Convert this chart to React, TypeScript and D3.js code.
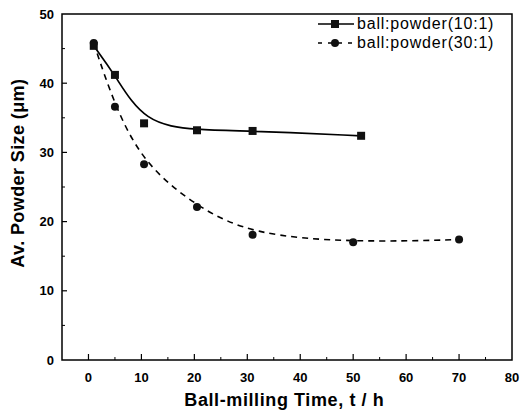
import React, { useEffect, useRef } from "react";
import * as d3 from "d3";

// ball:powder 10:1 (squares, solid)
const timeA = [1, 5, 10.5, 20.5, 31, 51.5];
const sizeA = [45.4, 41.2, 34.2, 33.2, 33.1, 32.4];
// ball:powder 30:1 (circles, dashed)
const timeB = [1, 5, 10.5, 20.5, 31, 50, 70];
const sizeB = [45.8, 36.6, 28.3, 22.1, 18.1, 17.0, 17.4];

const xTicks = [0, 10, 20, 30, 40, 50, 60, 70, 80];
const yTicks = [0, 10, 20, 30, 40, 50];
const legendLabels = ["ball:powder(10:1)", "ball:powder(30:1)"];

const FONT = "Liberation Sans, Arial, sans-serif";

const App = () => {
  const ref = useRef<SVGSVGElement>(null);

  useEffect(() => {
    const margin = { top: 14, right: 20, bottom: 55, left: 62 };
    const width = 532 - margin.left - margin.right;
    const height = 415 - margin.top - margin.bottom;

    const svg = d3.select(ref.current);
    svg.selectAll("*").remove();

    const g = svg.append("g").attr("transform", `translate(${margin.left},${margin.top})`);

    const x = d3.scaleLinear().domain([-5, 80]).range([0, width]);
    const y = d3.scaleLinear().domain([0, 50]).range([height, 0]);

    // frame
    g.append("rect")
      .attr("width", width)
      .attr("height", height)
      .attr("fill", "none")
      .attr("stroke", "#000")
      .attr("stroke-width", 1.5);

    // x ticks (inside)
    const xMinor = d3.range(0, 80, 5).filter((v) => v % 10 !== 0);
    g.selectAll(".xt")
      .data(xTicks.filter((v) => v < 80))
      .join("line")
      .attr("x1", (d) => x(d))
      .attr("x2", (d) => x(d))
      .attr("y1", height)
      .attr("y2", height - 6)
      .attr("stroke", "#000")
      .attr("stroke-width", 1.2);
    g.selectAll(".xm")
      .data(xMinor)
      .join("line")
      .attr("x1", (d) => x(d))
      .attr("x2", (d) => x(d))
      .attr("y1", height)
      .attr("y2", height - 3)
      .attr("stroke", "#000");

    g.selectAll(".xl")
      .data(xTicks)
      .join("text")
      .attr("x", (d) => x(d))
      .attr("y", height + 22)
      .attr("text-anchor", "middle")
      .attr("font-family", FONT)
      .attr("font-weight", "bold")
      .attr("font-size", 13)
      .text((d) => d);

    // y ticks (inside)
    g.selectAll(".yt")
      .data(yTicks.filter((v) => v > 0 && v < 50))
      .join("line")
      .attr("x1", 0)
      .attr("x2", 5)
      .attr("y1", (d) => y(d))
      .attr("y2", (d) => y(d))
      .attr("stroke", "#000")
      .attr("stroke-width", 1.2);
    g.selectAll(".ym")
      .data([5, 15, 25, 35, 45])
      .join("line")
      .attr("x1", 0)
      .attr("x2", 3)
      .attr("y1", (d) => y(d))
      .attr("y2", (d) => y(d))
      .attr("stroke", "#000");

    g.selectAll(".yl")
      .data(yTicks)
      .join("text")
      .attr("x", -8)
      .attr("y", (d) => y(d) + 4.5)
      .attr("text-anchor", "end")
      .attr("font-family", FONT)
      .attr("font-weight", "bold")
      .attr("font-size", 13)
      .text((d) => d);

    // axis titles
    g.append("text")
      .attr("x", x(37))
      .attr("y", height + 46)
      .attr("text-anchor", "middle")
      .attr("font-family", FONT)
      .attr("font-weight", "bold")
      .attr("font-size", 18)
      .attr("letter-spacing", 0.6)
      .text("Ball-milling Time, t / h");

    g.append("text")
      .attr("transform", `translate(-38,${y(27)}) rotate(-90)`)
      .attr("text-anchor", "middle")
      .attr("font-family", FONT)
      .attr("font-weight", "bold")
      .attr("font-size", 18)
      .attr("letter-spacing", 0.4)
      .text("Av. Powder Size (\u03bcm)");

    const line = d3
      .line<[number, number]>()
      .x((d) => x(d[0]))
      .y((d) => y(d[1]))
      .curve(d3.curveBasis);

    const ptsA = timeA.map((t, i) => [t, sizeA[i]] as [number, number]);
    const ptsB = timeB.map((t, i) => [t, sizeB[i]] as [number, number]);

    g.append("path")
      .attr("d", line(ptsB))
      .attr("fill", "none")
      .attr("stroke", "#000")
      .attr("stroke-width", 1.6)
      .attr("stroke-dasharray", "6,5");

    g.append("path")
      .attr("d", line(ptsA))
      .attr("fill", "none")
      .attr("stroke", "#000")
      .attr("stroke-width", 1.7);

    g.selectAll(".cb")
      .data(ptsB)
      .join("circle")
      .attr("cx", (d) => x(d[0]))
      .attr("cy", (d) => y(d[1]))
      .attr("r", 4)
      .attr("fill", "#111");

    g.selectAll(".sa")
      .data(ptsA)
      .join("rect")
      .attr("x", (d) => x(d[0]) - 4)
      .attr("y", (d) => y(d[1]) - 4)
      .attr("width", 8)
      .attr("height", 8)
      .attr("fill", "#111");

    // legend
    const lg = g.append("g").attr("transform", `translate(${318 - margin.left},0)`);
    legendLabels.forEach((label, i) => {
      const ly = 24 - margin.top + i * 19;
      lg.append("line")
        .attr("x1", 0)
        .attr("x2", 36)
        .attr("y1", ly)
        .attr("y2", ly)
        .attr("stroke", "#000")
        .attr("stroke-width", 1.6)
        .attr("stroke-dasharray", i === 0 ? null : "4,6");
      if (i === 0) {
        lg.append("rect").attr("x", 13).attr("y", ly - 4).attr("width", 8).attr("height", 8).attr("fill", "#111");
      } else {
        lg.append("circle").attr("cx", 17).attr("cy", ly).attr("r", 4).attr("fill", "#111");
      }
      lg.append("text")
        .attr("x", 39)
        .attr("y", ly + 5)
        .attr("font-family", FONT)
        .attr("font-size", 16)
        .attr("letter-spacing", 0.8)
        .text(label);
    });
  }, []);

  return (
    <svg
      ref={ref}
      width={532}
      height={415}
      style={{ position: "absolute", left: 0, top: 0, background: "#fff" }}
    />
  );
};

export default App;
